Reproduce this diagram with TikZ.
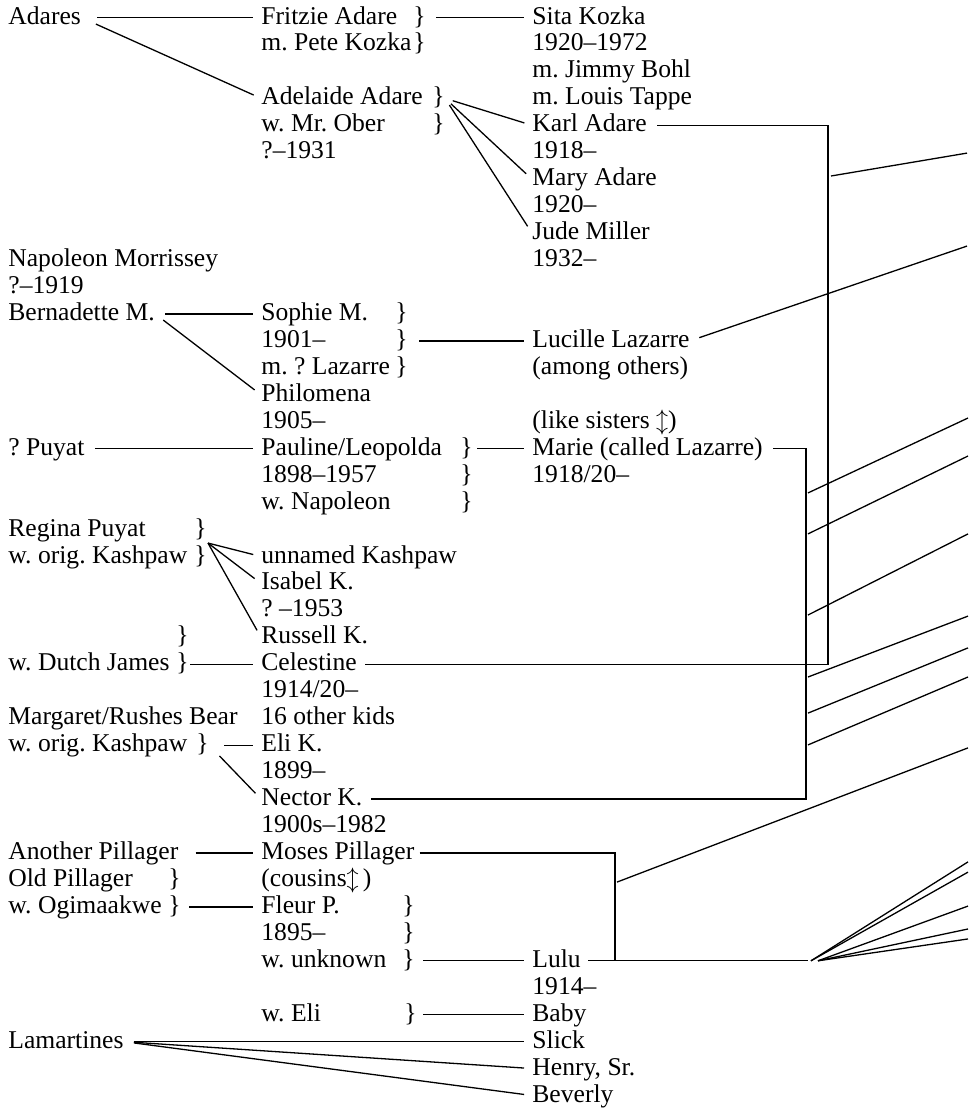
\documentclass[tikz,border=0pt]{standalone}
\usepackage{fontspec}
\setmainfont{Liberation Serif}
\frenchspacing
\newcommand{\brc}[2]{\makebox[#1][l]{#2}\}}

\begin{document}
\begin{tikzpicture}[
        x=0.5pt, y=-13.475pt,
        txt/.style={anchor=base west,inner sep=0pt,text height=8pt,text depth=1.5pt,
                    font=\fontsize{12.8}{13.5}\selectfont},
        link/.style={draw,line width=0.65pt,shorten <=5pt,shorten >=4pt},
        free/.style={draw,line width=0.65pt},
        % link/.style={draw,shorten <=3pt,shorten >=3pt},
        ]
    \useasboundingbox (0,-0.8905) rectangle (976,40.2597);

    % first column: parents
    \node[txt] (adares) at (8,0) {Adares};
    \node[txt] (napoleon) at (8,9) {Napoleon Morrissey};
    \node[txt] (napdate) at (8,10) {?--1919};
    \node[txt] (bernadette) at (8,11) {Bernadette M.};
    \node[txt] (puyat) at (8,16) {? Puyat};
    \node[txt] (regina) at (8,19) {\brc{93pt}{Regina Puyat}};
    \node[txt] (reginaw) at (8,20) {\brc{93pt}{w. orig. Kashpaw}};
    \node[txt] (dutchtop) at (8,23) {\brc{84pt}{}};
    \node[txt] (dutch) at (8,24) {\brc{84pt}{w. Dutch James}};
    \node[txt] (margaret) at (8,26) {Margaret/Rushes Bear};
    \node[txt] (margaretw) at (8,27) {\brc{94pt}{w. orig. Kashpaw}};
    \node[txt] (another) at (8,31) {Another Pillager};
    \node[txt] (oldpill) at (8,32) {\brc{80pt}{Old Pillager}};
    \node[txt] (ogimaakwe) at (8,33) {\brc{80pt}{w. Ogimaakwe}};
    \node[txt] (lamartines) at (8,38) {Lamartines};

    % second column
    \node[txt] (fritzie) at (261,0) {\brc{76pt}{Fritzie Adare}};
    \node[txt] (pete) at (261,1) {\brc{76pt}{m. Pete Kozka}};
    \node[txt] (adelaide) at (261,3) {\brc{85.5pt}{Adelaide Adare}};
    \node[txt] (ober) at (261,4) {\brc{85.5pt}{w. Mr. Ober}};
    \node[txt] (oberdate) at (261,5) {?--1931};
    \node[txt] (sophie) at (261,11) {\brc{67pt}{Sophie M.}};
    \node[txt] (sophdate) at (261,12) {\brc{67pt}{1901--}};
    \node[txt] (sophm) at (261,13) {\brc{67pt}{m. ? Lazarre}};
    \node[txt] (philomena) at (261,14) {Philomena};
    \node[txt] (phildate) at (261,15) {1905--};
    \node[txt] (pauline) at (261,16) {\brc{99.5pt}{Pauline/Leopolda}};
    \node[txt] (pauldate) at (261,17) {\brc{99.5pt}{1898--1957}};
    \node[txt] (paulw) at (261,18) {\brc{99.5pt}{w. Napoleon}};
    \node[txt] (unnamed) at (261,20) {unnamed Kashpaw};
    \node[txt] (isabel) at (261,21) {Isabel K.};
    \node[txt] (isadate) at (261,22) {? --1953};
    \node[txt] (russell) at (261,23) {Russell K.};
    \node[txt] (celestine) at (261,24) {Celestine};
    \node[txt] (celdate) at (261,25) {1914/20--};
    \node[txt] (kids) at (261,26) {16 other kids};
    \node[txt] (eli) at (261,27) {Eli K.};
    \node[txt] (elidate) at (261,28) {1899--};
    \node[txt] (nector) at (261,29) {Nector K.};
    \node[txt] (necdate) at (261,30) {1900s--1982};
    \node[txt] (moses) at (261,31) {Moses Pillager};
    \node[txt] (cousins) at (261,32) {(cousins$\updownarrow$\,)};
    \node[txt] (fleur) at (261,33) {\brc{70.5pt}{Fleur P.}};
    \node[txt] (fleurdate) at (261,34) {\brc{70.5pt}{1895--}};
    \node[txt] (fleurw) at (261,35) {\brc{70.5pt}{w. unknown}};
    \node[txt] (fleureli) at (261,37) {\brc{71.5pt}{w. Eli}};

    % third column
    \node[txt] (sita) at (532,0) {Sita Kozka};
    \node[txt] (sitadate) at (532,1) {1920--1972};
    \node[txt] (jimmy) at (532,2) {m. Jimmy Bohl};
    \node[txt] (louis) at (532,3) {m. Louis Tappe};
    \node[txt] (karl) at (532,4) {Karl Adare};
    \node[txt] (karldate) at (532,5) {1918--};
    \node[txt] (mary) at (532,6) {Mary Adare};
    \node[txt] (marydate) at (532,7) {1920--};
    \node[txt] (jude) at (532,8) {Jude Miller};
    \node[txt] (judedate) at (532,9) {1932--};
    \node[txt] (lucille) at (532,12) {Lucille Lazarre};
    \node[txt] (among) at (532,13) {(among others)};
    \node[txt] (sisters) at (532,15) {(like sisters $\updownarrow$)};
    \node[txt] (marie) at (532,16) {Marie (called Lazarre)};
    \node[txt] (mariedate) at (532,17) {1918/20--};
    \node[txt] (lulu) at (532,35) {Lulu};
    \node[txt] (ludate) at (532,36) {1914--};
    \node[txt] (baby) at (532,37) {Baby};
    \node[txt] (slick) at (532,38) {Slick};
    \node[txt] (henry) at (532,39) {Henry, Sr.};
    \node[txt] (beverly) at (532,40) {Beverly};

    % bars, fan points and the loose ends on the right
    \coordinate (karlbar) at (828,13);
    \coordinate (mariebar) at (806,22);
    \coordinate (mosesbar) at (615,33);
    \coordinate (lulufan) at (808,0);
    \coordinate (regfan) at (208,19.26);
    \coordinate (kl1) at (831,5.64);   \coordinate (kl2) at (967,4.79);
    \coordinate (lucend) at (967,8.24);
    \coordinate (ml1) at (617,31.84);  \coordinate (ml2) at (968,26.86);

    \draw[link,shorten <=8pt] (adares.east) -- (fritzie.west);
    \draw[link,shorten <=8pt] (adares.east) -- (adelaide.west);
    \draw[link] (fritzie.east) -- (sita.west);
    \draw[link,shorten <=4pt] (adelaide.east) -- (karl.west);
    \draw[link,shorten <=4pt] (adelaide.east) -- (mary.west);
    \draw[link,shorten <=4pt] (adelaide.east) -- (jude.west);
    \draw[link] (karl.east) -| (karlbar) |- (celestine.east);
    \draw[free] (kl1) -- (kl2);

    \draw[link] (bernadette.east) -- (sophie.west);
    \draw[link] (bernadette.east) -- (philomena.west);
    \draw[link,shorten <=5.5pt] (sophdate.east) -- (lucille.west);
    \draw[link,shorten >=0pt] (lucille.east) -- (lucend);
    \draw[link] (puyat.east) -- (pauline.west);
    \draw[link,shorten <=2pt] (pauline.east) -- (marie.west);
    \draw[link] (marie.east) -| (mariebar) |- (nector.east);
    \draw[free] (808,17.40) -- (968,14.62);
    \draw[free] (808,18.92) -- (968,16.03);
    \draw[free] (808,21.93) -- (968,18.92);
    \draw[free] (808,24.23) -- (968,21.97);
    \draw[free] (808,25.57) -- (968,23.15);
    \draw[free] (808,26.75) -- (968,24.23);

    \draw[link,shorten <=0pt] (regfan) -- (unnamed.west);
    \draw[link,shorten <=0pt] (regfan) -- (isabel.west);
    \draw[link,shorten <=0pt] (regfan) -- (russell.west);
    \draw[link,shorten <=0.5pt] (dutch.east) -- (celestine.west);
    \draw[link,shorten <=7.5pt] (margaretw.east) -- (eli.west);
    \draw[link,shorten <=7.5pt] (margaretw.east) -- (nector.west);

    \draw[link,shorten <=8.5pt] (another.east) -- (moses.west);
    \draw[link,shorten <=2.5pt,shorten >=0pt] (moses.east) -| (mosesbar |- lulu.east);
    \draw[free] (ml1) -- (ml2);
    \draw[link,shorten <=4pt] (ogimaakwe.east) -- (fleur.west);
    \draw[link,shorten <=4pt] (fleurw.east) -- (lulu.west);
    \draw[link,shorten <=3.5pt,shorten >=0pt] (lulu.east) -- (lulu.east -| lulufan);
    \draw[free] (811,34.76) -- (968,31.09);
    \draw[free] (811,34.76) -- (968,31.47);
    \draw[free] (818,34.76) -- (968,32.73);
    \draw[free] (818,34.76) -- (968,33.58);
    \draw[free] (818,34.76) -- (968,33.95);
    \draw[link,shorten <=3pt] (fleureli.east) -- (baby.west);

    \draw[link] (lamartines.east) -- (slick.west);
    \draw[link] (lamartines.east) -- (henry.west);
    \draw[link] (lamartines.east) -- (beverly.west); % end of the fan
\end{tikzpicture}
\end{document}
